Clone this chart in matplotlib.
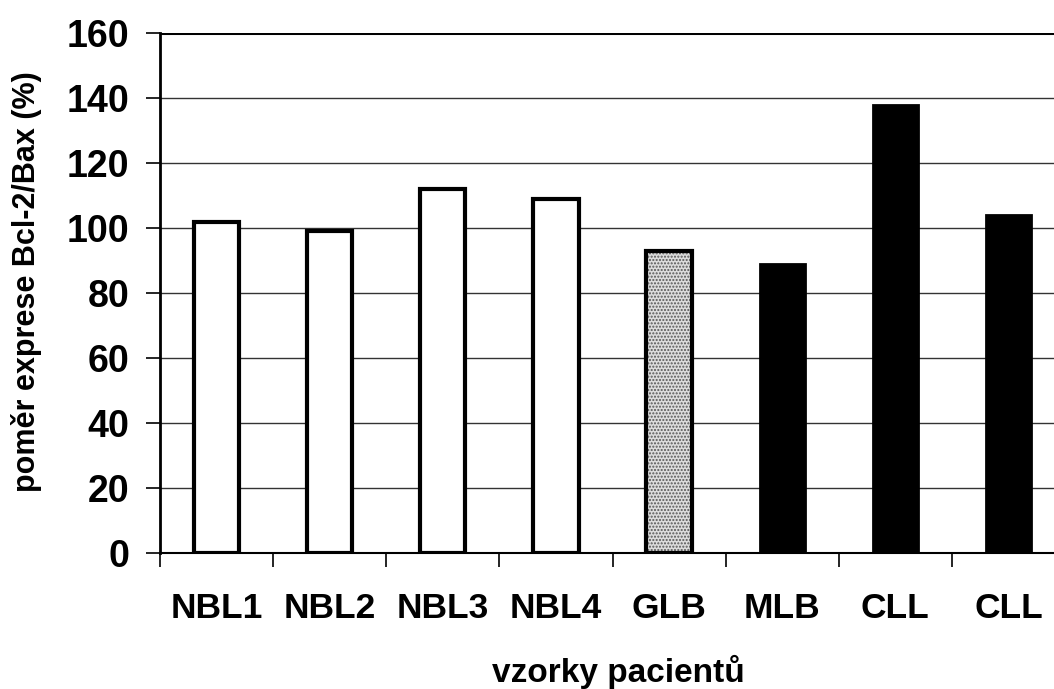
"""Bcl-2/Bax expression ratio per patient sample, grouped bar chart."""

import matplotlib.pyplot as plt

# data
samples = ["NBL1", "NBL2", "NBL3", "NBL4", "GLB", "MLB", "CLL", "CLL"]
ratio = [102, 99, 112, 109, 93, 89, 138, 104]
# fill style per sample: open, stippled, solid
group = ["open", "open", "open", "open", "dots", "solid", "solid", "solid"]
y_ticks = [0, 20, 40, 60, 80, 100, 120, 140, 160]

plt.rcParams["font.family"] = "Liberation Sans"
plt.rcParams["hatch.color"] = "#555555"
plt.rcParams["hatch.linewidth"] = 1.0

W, H = 1054, 689
fig = plt.figure(figsize=(W / 100, H / 100), dpi=100)
ax = fig.add_axes([160 / W, (H - 553) / H, (1065 - 160) / W, (553 - 33) / H])

x = list(range(len(samples)))
width = 0.40

for xi, val, g in zip(x, ratio, group):
    if g == "open":
        ax.bar(xi, val, width, color="white", edgecolor="black",
               linewidth=3, zorder=3)
    elif g == "solid":
        ax.bar(xi, val, width, color="black", edgecolor="black",
               linewidth=2, zorder=3)
    else:
        # stippled grey fill, then the outline on top
        ax.bar(xi, val, width, color="#dcdcdc", edgecolor="#555555",
               hatch=".....", linewidth=0, zorder=3)
        ax.bar(xi, val, width, color="none", edgecolor="black",
               linewidth=3, zorder=4)

ax.set_xlim(-0.5, len(samples) - 0.5)
ax.set_ylim(0, 160)

# grid lines
for t in y_ticks[1:-1]:
    ax.axhline(t, color="#333333", linewidth=1.0, zorder=1)
ax.axhline(160, color="black", linewidth=2.2, zorder=1)

ax.spines["top"].set_visible(False)
ax.spines["right"].set_visible(False)
ax.spines["left"].set_linewidth(2)
ax.spines["bottom"].set_linewidth(1.5)

ax.set_yticks(y_ticks)
ax.set_yticklabels([str(t) for t in y_ticks], fontsize=27,
                   fontweight="bold")
ax.tick_params(axis="y", length=10, width=1.2, pad=12)

ax.set_xticks(x)
ax.set_xticklabels(samples, fontsize=25.5, fontweight="bold")
ax.tick_params(axis="x", which="major", length=0, pad=28)
ax.set_xticks([i - 0.5 for i in range(len(samples) + 1)], minor=True)
ax.tick_params(axis="x", which="minor", length=10, width=1.2)

fig.text(618 / W, 1 - 672 / H, "vzorky pacientů", fontsize=24,
         fontweight="bold", ha="center", va="center")
fig.text(27 / W, 1 - 282 / H, "poměr exprese Bcl-2/Bax (%)", fontsize=22,
         fontweight="bold", ha="center", va="center", rotation=90)

fig.savefig("out.png", dpi=100)
